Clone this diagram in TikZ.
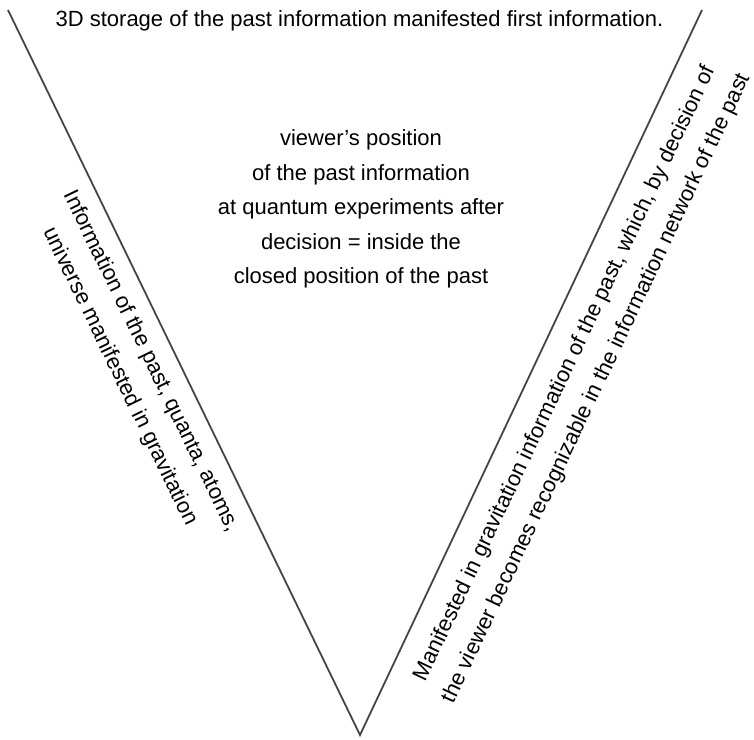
\documentclass[tikz,border=0pt]{standalone}
\usepackage{fontspec}
\setmainfont{Liberation Sans}
\definecolor{vline}{rgb}{0.27,0.27,0.27}
\tikzset{
  vside/.style={draw=vline, line width=1.8pt},
  txt/.style={font=\fontsize{22}{34.5}\selectfont, align=center, inner sep=0pt}
}

\begin{document}
\begin{tikzpicture}[x=1pt,y=-1pt]
  \useasboundingbox (0,0) rectangle (754,739);
  \coordinate (topleft) at (8,10);
  \coordinate (tip) at (360,735);
  \coordinate (topright) at (702,10);
  \draw[vside] (topleft) -- (tip) -- (topright);
  \node[txt, anchor=base] (storage) at (359.5,26) {3D storage of the past information manifested first information.};
  \node[txt] (viewer) at (361,209) {viewer’s position\\of the past information\\at quantum experiments after\\decision = inside the\\closed position of the past};
  %% along the left side
  \node[txt, rotate=-64.1] (pastinfo) at (135.5,369) {Information of the past, quanta, atoms,\\universe manifested in gravitation};
  %% along the right side
  \node[txt, rotate=64.7] (gravinfo) at (581,381) {Manifested in gravitation information of the past, which, by decision of\\the viewer becomes recognizable in the information network of the past};
\end{tikzpicture}
\end{document}
